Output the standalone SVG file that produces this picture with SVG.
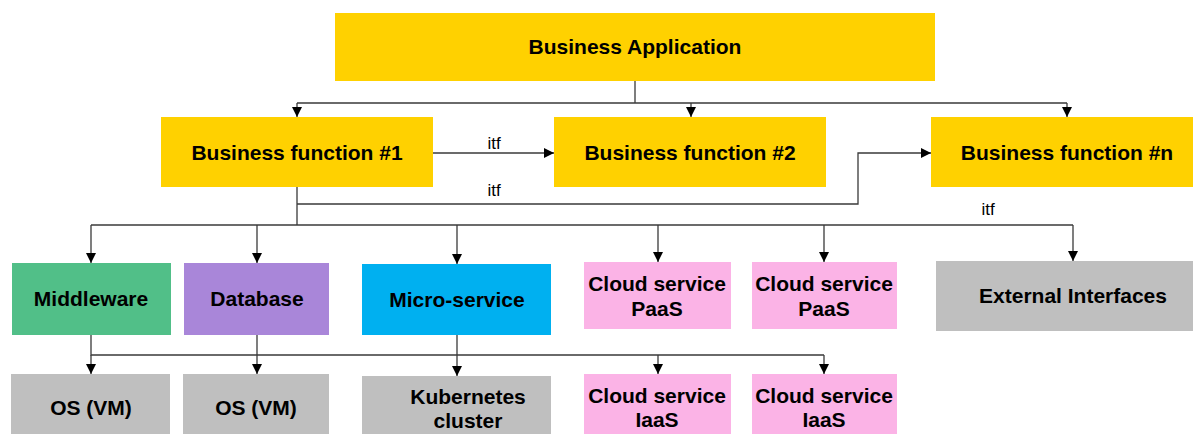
<svg xmlns="http://www.w3.org/2000/svg" width="1193" height="434" viewBox="0 0 1193 434">
<style>
.t{font-family:"Liberation Sans",Arial,sans-serif;font-weight:bold;font-size:21px;fill:#000;text-anchor:middle}
.l{font-family:"Liberation Sans",Arial,sans-serif;font-size:17px;fill:#000;text-anchor:middle}
.c{fill:none;stroke:#3a3a3a;stroke-width:1.3}
.y{fill:#FFD100}.g{fill:#51BF88}.p{fill:#A986D9}.b{fill:#00B0F0}.k{fill:#FBB3E6}.r{fill:#BFBFBF}
</style>
<defs>
<marker id="a" viewBox="0 0 10 10" refX="10" refY="5" markerWidth="11" markerHeight="10" markerUnits="userSpaceOnUse" orient="auto">
<path d="M0,0 L10,5 L0,10 z" fill="#000"/>
</marker>
</defs>
<rect width="1193" height="434" fill="#fff"/>
<g id="connectors">
<path class="c" d="M635,81 V103 M297,103 H1067"/>
<path class="c" d="M297,103 V117" marker-end="url(#a)"/>
<path class="c" d="M691,103 V117" marker-end="url(#a)"/>
<path class="c" d="M1067,103 V117" marker-end="url(#a)"/>
<path class="c" d="M433,153 H554" marker-end="url(#a)"/>
<path class="c" d="M297,187 V225 M297,204 H858 V153 H931" marker-end="url(#a)"/>
<path class="c" d="M91,225 H1073"/>
<path class="c" d="M91,225 V263" marker-end="url(#a)"/>
<path class="c" d="M257,225 V263" marker-end="url(#a)"/>
<path class="c" d="M457,225 V264" marker-end="url(#a)"/>
<path class="c" d="M658,225 V262" marker-end="url(#a)"/>
<path class="c" d="M824,225 V262" marker-end="url(#a)"/>
<path class="c" d="M1073,225 V261" marker-end="url(#a)"/>
<path class="c" d="M91,335 V355 H824"/>
<path class="c" d="M91,355 V374" marker-end="url(#a)"/>
<path class="c" d="M257,335 V374" marker-end="url(#a)"/>
<path class="c" d="M457,335 V376" marker-end="url(#a)"/>
<path class="c" d="M658,355 V374" marker-end="url(#a)"/>
<path class="c" d="M824,355 V374" marker-end="url(#a)"/>
<text class="l" x="494" y="149">itf</text>
<text class="l" x="494" y="196">itf</text>
<text class="l" x="988" y="215">itf</text>
</g>
<g id="business-application"><rect class="y" x="335" y="13" width="600" height="68"/><text class="t" x="635" y="54">Business Application</text></g>
<g id="business-function-1"><rect class="y" x="161" y="117" width="272" height="70"/><text class="t" x="297" y="160">Business function #1</text></g>
<g id="business-function-2"><rect class="y" x="554" y="117" width="272" height="70"/><text class="t" x="690" y="160">Business function #2</text></g>
<g id="business-function-n"><rect class="y" x="931" y="117" width="262" height="70"/><text class="t" x="1067" y="160">Business function #n</text></g>
<g id="middleware"><rect class="g" x="12" y="263" width="159" height="72"/><text class="t" x="91" y="306">Middleware</text></g>
<g id="database"><rect class="p" x="184" y="263" width="145" height="72"/><text class="t" x="257" y="306">Database</text></g>
<g id="micro-service"><rect class="b" x="362" y="264" width="189" height="71"/><text class="t" x="457" y="307">Micro-service</text></g>
<g id="cloud-paas-1"><rect class="k" x="584" y="262" width="147" height="67"/><text class="t" x="657" y="291">Cloud service</text><text class="t" x="657" y="316">PaaS</text></g>
<g id="cloud-paas-2"><rect class="k" x="752" y="262" width="145" height="67"/><text class="t" x="824" y="291">Cloud service</text><text class="t" x="824" y="316">PaaS</text></g>
<g id="external-interfaces"><rect class="r" x="936" y="261" width="257" height="70"/><text class="t" x="1073" y="303">External Interfaces</text></g>
<g id="os-vm-1"><rect class="r" x="11" y="374" width="159" height="60"/><text class="t" x="91" y="415">OS (VM)</text></g>
<g id="os-vm-2"><rect class="r" x="183" y="374" width="146" height="60"/><text class="t" x="256" y="415">OS (VM)</text></g>
<g id="kubernetes-cluster"><rect class="r" x="362" y="376" width="189" height="58"/><text class="t" x="468" y="404">Kubernetes</text><text class="t" x="468" y="428">cluster</text></g>
<g id="cloud-iaas-1"><rect class="k" x="584" y="374" width="147" height="60"/><text class="t" x="657" y="403">Cloud service</text><text class="t" x="657" y="427">IaaS</text></g>
<g id="cloud-iaas-2"><rect class="k" x="752" y="374" width="145" height="60"/><text class="t" x="824" y="403">Cloud service</text><text class="t" x="824" y="427">IaaS</text></g>
</svg>
